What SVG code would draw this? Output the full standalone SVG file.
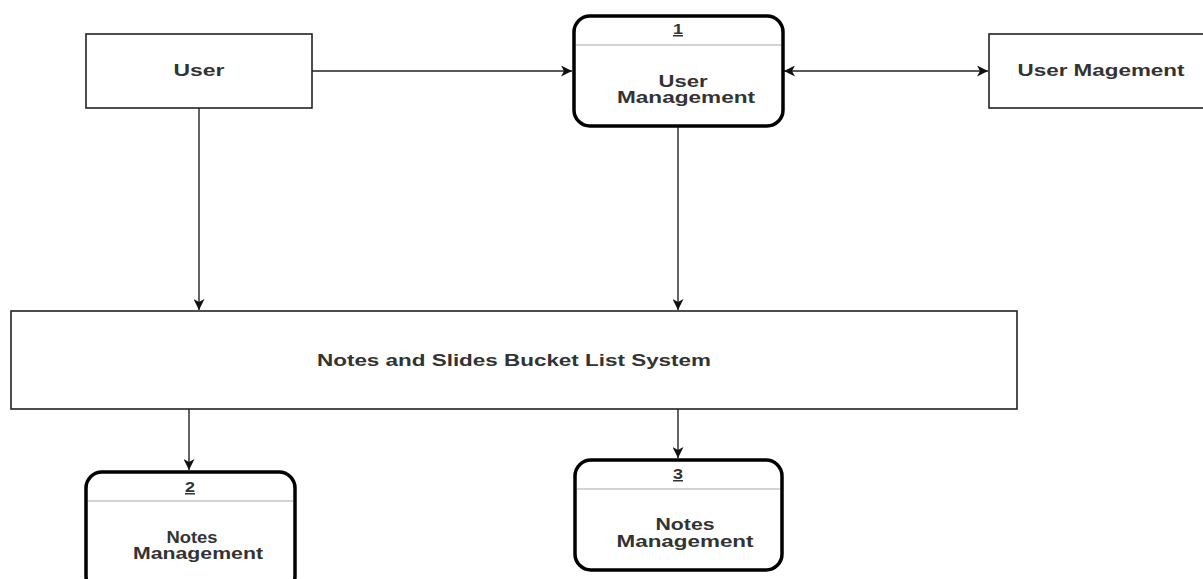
<svg xmlns="http://www.w3.org/2000/svg" width="1203" height="579" viewBox="0 0 1203 579">
<defs>
<style>
.ent{fill:#fff;stroke:#222;stroke-width:1.6}
.proc{fill:#fff;stroke:#000;stroke-width:3.5}
.div{stroke:#a8a8a8;stroke-width:1.2}
.lbl{font-family:"Liberation Sans",Arial,sans-serif;font-size:16px;font-weight:bold;fill:#333;text-anchor:middle}
.num{font-family:"Liberation Sans",Arial,sans-serif;font-size:15px;font-weight:bold;fill:#333;text-anchor:middle;text-decoration:underline}
.con{fill:none;stroke:#222;stroke-width:1.4}
</style>
<marker id="ah" markerUnits="userSpaceOnUse" markerWidth="12" markerHeight="11" refX="11" refY="5.5" orient="auto-start-reverse">
<path d="M0,0 L11,5.5 L0,11 L3,5.5 z" fill="#111"/>
</marker>
</defs>
<rect width="1203" height="579" fill="#fff"/>
<g id="connectors">
<line class="con" x1="312" y1="71" x2="572" y2="71" marker-end="url(#ah)"/>
<line class="con" x1="784" y1="71" x2="988" y2="71" marker-start="url(#ah)" marker-end="url(#ah)"/>
<line class="con" x1="199" y1="108" x2="199" y2="310" marker-end="url(#ah)"/>
<line class="con" x1="678" y1="127" x2="678" y2="310" marker-end="url(#ah)"/>
<line class="con" x1="189" y1="409" x2="189" y2="470" marker-end="url(#ah)"/>
<line class="con" x1="678" y1="409" x2="678" y2="458" marker-end="url(#ah)"/>
</g>
<g id="user">
<rect class="ent" x="86" y="34" width="226" height="74"/>
<text class="lbl" x="199" y="76" textLength="51" lengthAdjust="spacingAndGlyphs">User</text>
</g>
<g id="user-magement">
<rect class="ent" x="989" y="34" width="226" height="74"/>
<text class="lbl" x="1101" y="76" textLength="167" lengthAdjust="spacingAndGlyphs">User Magement</text>
</g>
<g id="proc1">
<rect class="proc" x="574" y="16" width="209" height="110" rx="16" ry="16"/>
<line class="div" x1="576" y1="45" x2="781" y2="45"/>
<text class="num" x="678" y="34" textLength="10" lengthAdjust="spacingAndGlyphs">1</text>
<text class="lbl" x="683" y="87" textLength="49" lengthAdjust="spacingAndGlyphs">User</text>
<text class="lbl" x="686" y="103" textLength="138" lengthAdjust="spacingAndGlyphs">Management</text>
</g>
<g id="system">
<rect class="ent" x="11" y="311" width="1006" height="98"/>
<text class="lbl" x="514" y="366" textLength="394" lengthAdjust="spacingAndGlyphs">Notes and Slides Bucket List System</text>
</g>
<g id="proc2">
<rect class="proc" x="86" y="472" width="209" height="120" rx="16" ry="16"/>
<line class="div" x1="88" y1="501" x2="293" y2="501"/>
<text class="num" x="190" y="492" textLength="10" lengthAdjust="spacingAndGlyphs">2</text>
<text class="lbl" x="192" y="543" textLength="51" lengthAdjust="spacingAndGlyphs">Notes</text>
<text class="lbl" x="198" y="559" textLength="130" lengthAdjust="spacingAndGlyphs">Management</text>
</g>
<g id="proc3">
<rect class="proc" x="575" y="460" width="207" height="110" rx="16" ry="16"/>
<line class="div" x1="577" y1="489" x2="780" y2="489"/>
<text class="num" x="678" y="479" textLength="10" lengthAdjust="spacingAndGlyphs">3</text>
<text class="lbl" x="685" y="530" textLength="59" lengthAdjust="spacingAndGlyphs">Notes</text>
<text class="lbl" x="685" y="547" textLength="137" lengthAdjust="spacingAndGlyphs">Management</text>
</g>
</svg>
